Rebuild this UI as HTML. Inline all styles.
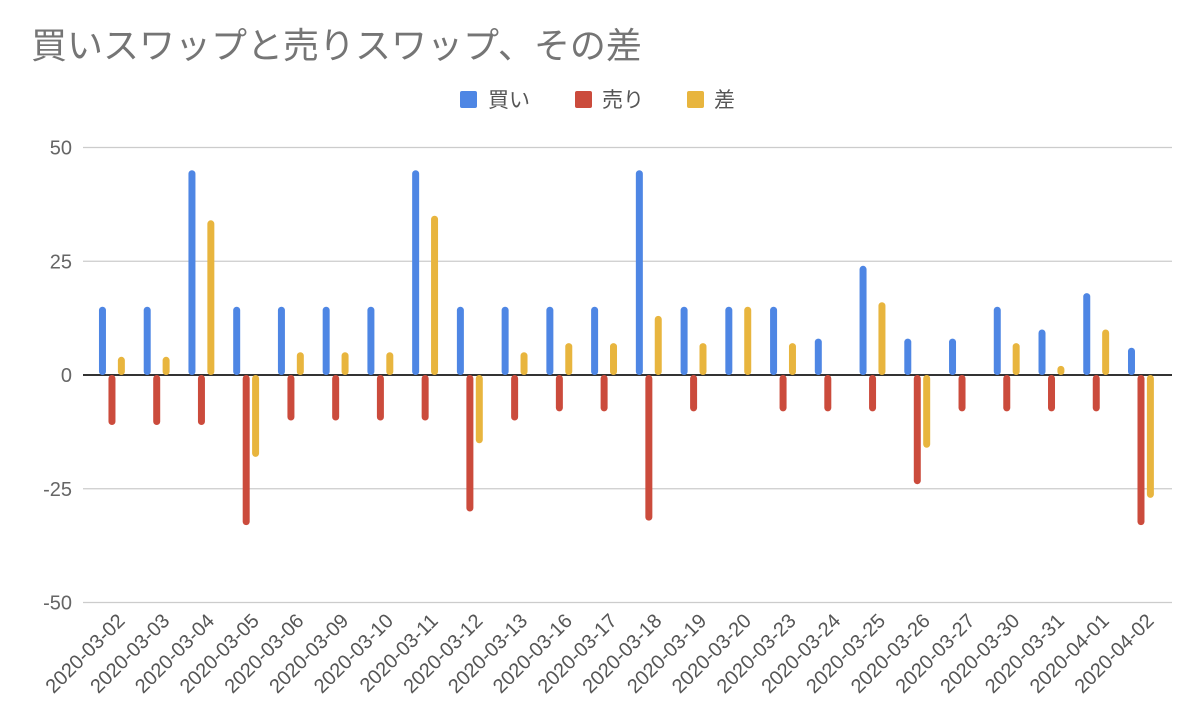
<!DOCTYPE html>
<html><head><meta charset="utf-8"><style>
body{margin:0;background:#fff}
svg{display:block;font-family:"Liberation Sans","Noto Sans CJK JP",sans-serif}
</style></head><body>
<svg id="chart" width="1200" height="725">
<text x="31" y="58" font-size="36" fill="#757575">買いスワップと売りスワップ、その差</text>
<g>
<rect x="460" y="91" width="17" height="17" rx="2" fill="#4e86e4"/>
<text x="488" y="107" font-size="21" fill="#555">買い</text>
<rect x="575" y="91" width="17" height="17" rx="2" fill="#cb4b3c"/>
<text x="602" y="107" font-size="21" fill="#555">売り</text>
<rect x="687" y="91" width="17" height="17" rx="2" fill="#e8b53e"/>
<text x="714" y="107" font-size="21" fill="#555">差</text>
</g>
<g id="grid"></g><g id="bars"></g><g id="xlabels"></g>
</svg>
<script>
const cats=["2020-03-02","2020-03-03","2020-03-04","2020-03-05","2020-03-06","2020-03-09","2020-03-10","2020-03-11","2020-03-12","2020-03-13","2020-03-16","2020-03-17","2020-03-18","2020-03-19","2020-03-20","2020-03-23","2020-03-24","2020-03-25","2020-03-26","2020-03-27","2020-03-30","2020-03-31","2020-04-01","2020-04-02"];
const buy=[15,15,45,15,15,15,15,45,15,15,15,15,45,15,15,15,8,24,8,8,15,10,18,6];
const sell=[-11,-11,-11,-33,-10,-10,-10,-10,-30,-10,-8,-8,-32,-8,0,-8,-8,-8,-24,-8,-8,-8,-8,-33];
const diff=[4,4,34,-18,5,5,5,35,-15,5,7,7,13,7,15,7,0,16,-16,0,7,2,10,-27];
const yTicks=[50,25,0,-25,-50];
(function(){
const NS="http://www.w3.org/2000/svg";
const n=cats.length;
const y=v=>375-v*4.55;
const left=89.6, step=44.74;
const cx=i=>left+step*(i+0.5);
const grid=document.getElementById('grid');
yTicks.forEach(t=>{
 const l=document.createElementNS(NS,'line');
 l.setAttribute('x1',83);l.setAttribute('x2',1172);l.setAttribute('y1',y(t));l.setAttribute('y2',y(t));
 l.setAttribute('stroke',t===0?'#333':'#ccc');l.setAttribute('stroke-width',t===0?2:1.3);
 
 
 grid.appendChild(l);
 const tx=document.createElementNS(NS,'text');
 tx.setAttribute('x',72);tx.setAttribute('y',y(t)+7);tx.setAttribute('text-anchor','end');
 tx.setAttribute('font-size','20');tx.setAttribute('fill','#666');tx.textContent=t;
 
 
 grid.appendChild(tx);
});
const bars=document.getElementById('bars');
const series=[[buy,'#4e86e4',-9.5,'bar-buy'],[sell,'#cb4b3c',0,'bar-sell'],[diff,'#e8b53e',9.4,'bar-diff']];
for(let i=0;i<n;i++){
 series.forEach(([arr,col,off,nm])=>{
  const v=arr[i]; if(v===0) return;
  const r=document.createElementNS(NS,'rect');
  const top=Math.min(y(v),375), h=Math.abs(y(v)-375);
  r.setAttribute('x',cx(i)+off-3.5);r.setAttribute('width',7);
  r.setAttribute('y',top);r.setAttribute('height',h);r.setAttribute('rx',3.5);r.setAttribute('fill',col);
  
  
  bars.appendChild(r);
 });
 const t=document.createElementNS(NS,'text');
 const ax=cx(i)+14, ay=622;
 t.setAttribute('x',ax);t.setAttribute('y',ay);t.setAttribute('text-anchor','end');
 t.setAttribute('transform','rotate(-45 '+ax+' '+ay+')');
 t.setAttribute('font-size','20');t.setAttribute('fill','#555');t.textContent=cats[i];
 
 
 document.getElementById('xlabels').appendChild(t);
}
})();
</script>
</body></html>
